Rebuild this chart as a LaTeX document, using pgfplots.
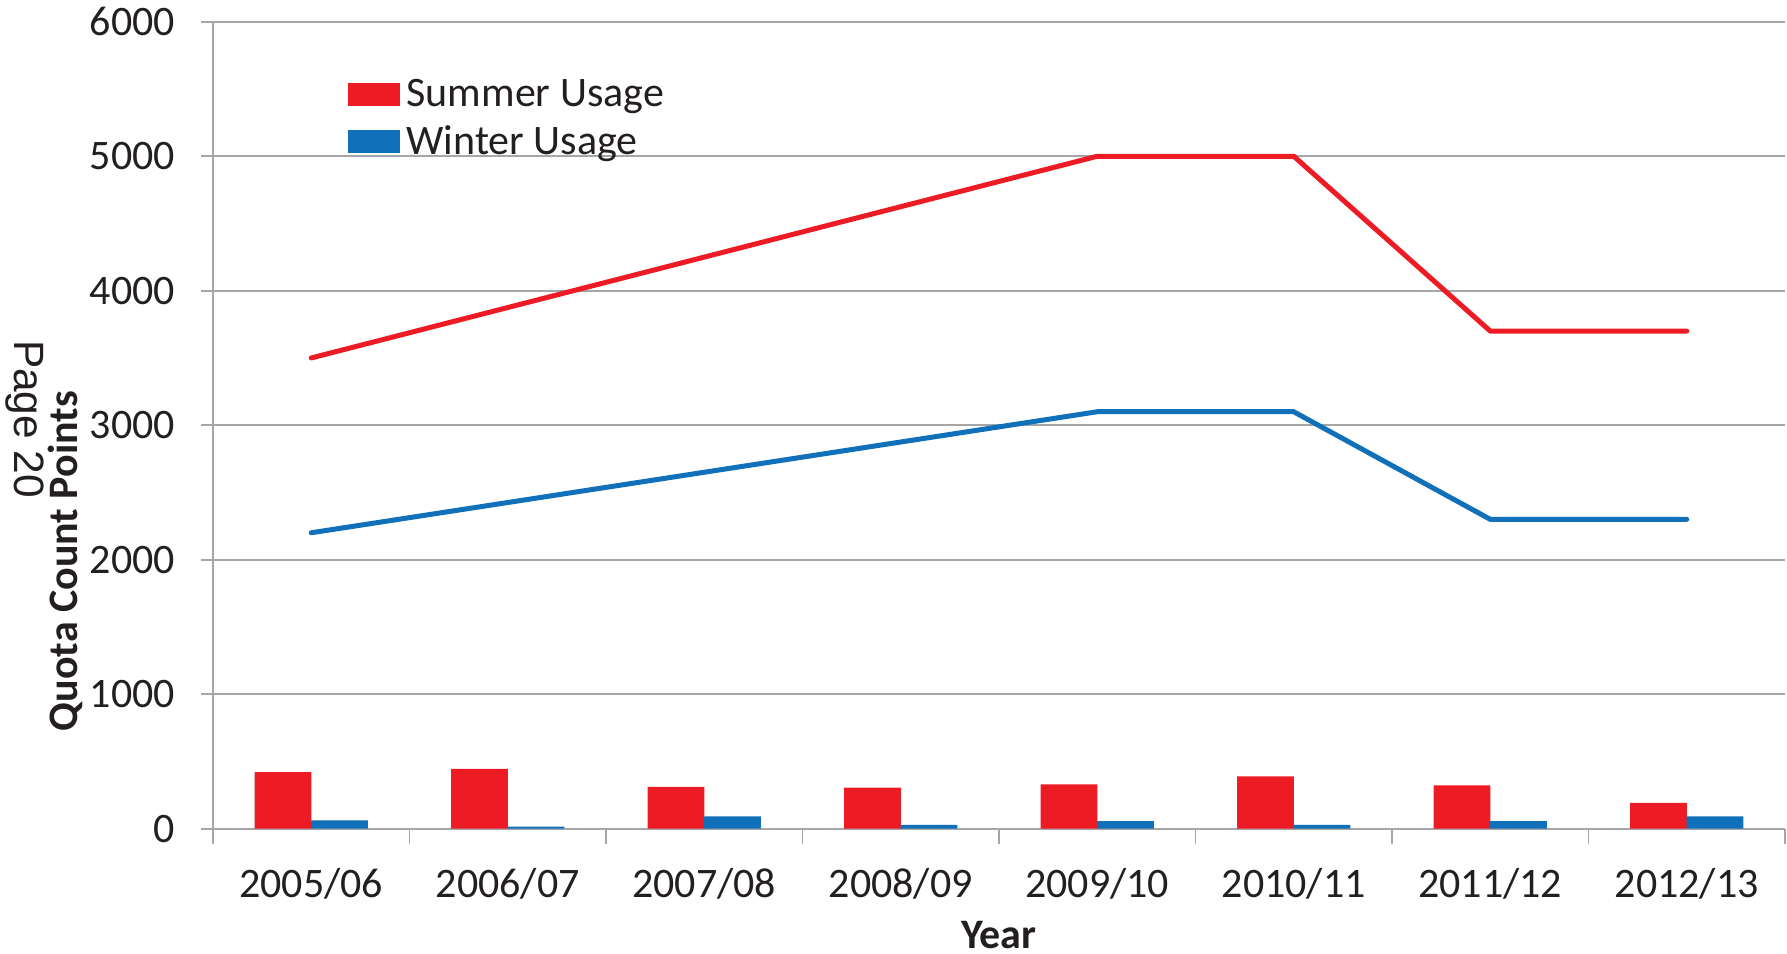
\documentclass[border=0pt]{standalone}
\usepackage{pgfplots}
\pgfplotsset{compat=1.18}
\usepackage{fontspec}
\setmainfont{Carlito}
\newfontfamily\pagefont{Liberation Sans}
\definecolor{sred}{HTML}{ED1C24}
\definecolor{wblue}{HTML}{1170BA}
\definecolor{gridgray}{HTML}{A6A6A6}
\definecolor{txt}{HTML}{231F20}
\pgfplotsset{swatch/.style={legend image code/.code={\fill[##1] (0pt,-2.25pt) rectangle (12.8pt,3.45pt);}}}
\begin{document}
\begin{tikzpicture}
\path[use as bounding box] (-53.25pt,-31.1pt) rectangle (393.5pt,207.15pt);
\begin{axis}[
  at={(0,0)}, anchor=south west,
  scale only axis, width=393pt, height=201.7pt,
  xmin=-0.5, xmax=7.5, ymin=0, ymax=6000,
  axis lines*=left,
  axis line style={draw=gridgray, line width=0.45pt, -},
  xtick={0,...,7},
  xticklabels={2005/06,2006/07,2007/08,2008/09,2009/10,2010/11,2011/12,2012/13},
  minor xtick={-0.5,0.5,...,7.5},
  ytick={0,1000,...,6000},
  tick align=outside,
  xtick pos=bottom, ytick pos=left,
  major tick length=3.1pt,
  minor tick length=3.75pt,
  tick style={draw=gridgray, line width=0.45pt},
  major x tick style={draw=none},
  ymajorgrids, grid style={draw=gridgray, line width=0.45pt},
  /pgf/number format/1000 sep={},
  /pgf/number format/assume math mode=true,
  ticklabel style={font=\fontsize{10.5}{12}\selectfont, text=txt},
  yticklabel style={xshift=-2.85pt},
  xticklabel style={yshift=-3.4pt},
  xlabel={\textbf{Year}},
  xlabel style={at={(axis description cs:0.5,-0.1319)}, anchor=center, font=\fontsize{10.5}{12}\selectfont, text=txt},
  ylabel={\textbf{Quota Count Points}},
  ylabel style={at={(axis description cs:-0.0941,0.3316)}, anchor=center, font=\fontsize{10.5}{12}\selectfont, text=txt},
  legend style={at={(axis description cs:0.0856,0.933)}, anchor=north west, draw=none, fill=none,
    font=\fontsize{10.5}{12}\selectfont, text=txt, inner sep=0pt, row sep=1.9pt,
    nodes={inner sep=0pt, text height=7.5pt, text depth=2.5pt},
    /tikz/every odd column/.append style={column sep=1.75pt}},
  legend cell align=left,
]
\addplot[ybar, bar width=14.15pt, bar shift=-7.07pt, fill=sred, draw=none, swatch]
  coordinates {(0,420) (1,445) (2,310) (3,305) (4,328) (5,388) (6,322) (7,192)};
\addlegendentry{Summer Usage}
\addplot[ybar, bar width=14.15pt, bar shift=7.07pt, fill=wblue, draw=none, swatch]
  coordinates {(0,62) (1,15) (2,90) (3,27) (4,55) (5,27) (6,55) (7,91)};
\addlegendentry{Winter Usage}
\addplot[sred, line width=1.25pt, line cap=round, line join=round, forget plot]
  coordinates {(0,3500) (1,3875) (2,4250) (3,4625) (4,5000) (5,5000) (6,3700) (7,3700)};
\addplot[wblue, line width=1.25pt, line cap=round, line join=round, forget plot]
  coordinates {(0,2200) (1,2425) (2,2650) (3,2875) (4,3100) (5,3100) (6,2300) (7,2300)};
\end{axis}
\node[rotate=-90, font=\pagefont\fontsize{10.6}{12}\selectfont, text=txt, inner sep=0pt] at (-47pt,102.4pt) {Page 20};
\end{tikzpicture}
\end{document}
